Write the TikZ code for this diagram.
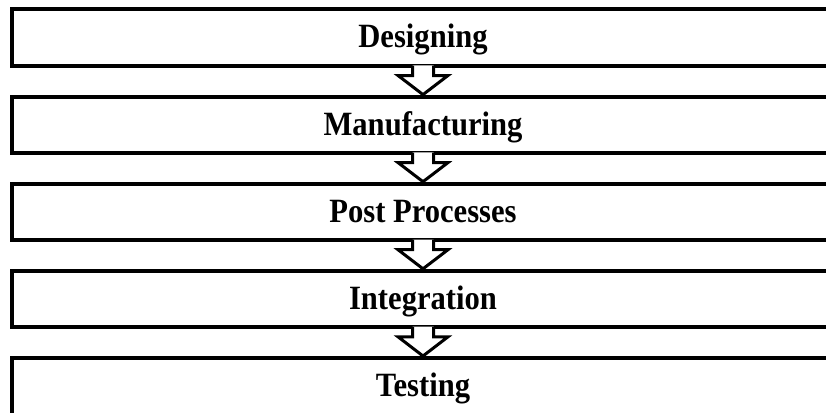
\documentclass[tikz,border=0pt]{standalone}
\usepackage{fontspec}
\setmainfont{Liberation Serif}
\newfontfamily\stagefont{Liberation Serif}[FakeStretch=0.9]
\usetikzlibrary{calc}
\begin{document}
\begin{tikzpicture}[x=1pt,y=-1pt,
  stage/.style={draw=black,line width=4pt,minimum width=822pt,minimum height=56pt,inner sep=0pt,
    text height=27pt,text depth=6pt,
    font=\stagefont\fontsize{34}{38}\selectfont\bfseries},
  flowarrow/.style={draw=black,line width=3pt,miter limit=10}]
\useasboundingbox (0,0) rectangle (826,412);
\node[stage] (s1) at (423,37.5) {Designing};
\node[stage] (s2) at (423,124.6) {Manufacturing};
\node[stage] (s3) at (423,211.7) {Post Processes};
\node[stage] (s4) at (423,298.8) {Integration};
\node[stage,minimum height=60pt,text height=23pt,text depth=7pt] (s5) at (423,388) {Testing};
\foreach \a/\b in {s1/s2,s2/s3,s3/s4,s4/s5}{
  \fill[white] ($(\a.south)+(-10.5,-2.2)$) -- ($(\a.south)+(-10.5,8)$) -- ($(\a.south)+(-25,8)$)
    -- (\b.north) -- ($(\a.south)+(25,8)$) -- ($(\a.south)+(10.5,8)$) -- ($(\a.south)+(10.5,-2.2)$) -- cycle;
  \draw[flowarrow] ($(\a.south)+(-10.5,-2)$) -- ($(\a.south)+(-10.5,8)$) -- ($(\a.south)+(-25,8)$)
    -- (\b.north) -- ($(\a.south)+(25,8)$) -- ($(\a.south)+(10.5,8)$) -- ($(\a.south)+(10.5,-2)$);
}
\end{tikzpicture}
\end{document}
